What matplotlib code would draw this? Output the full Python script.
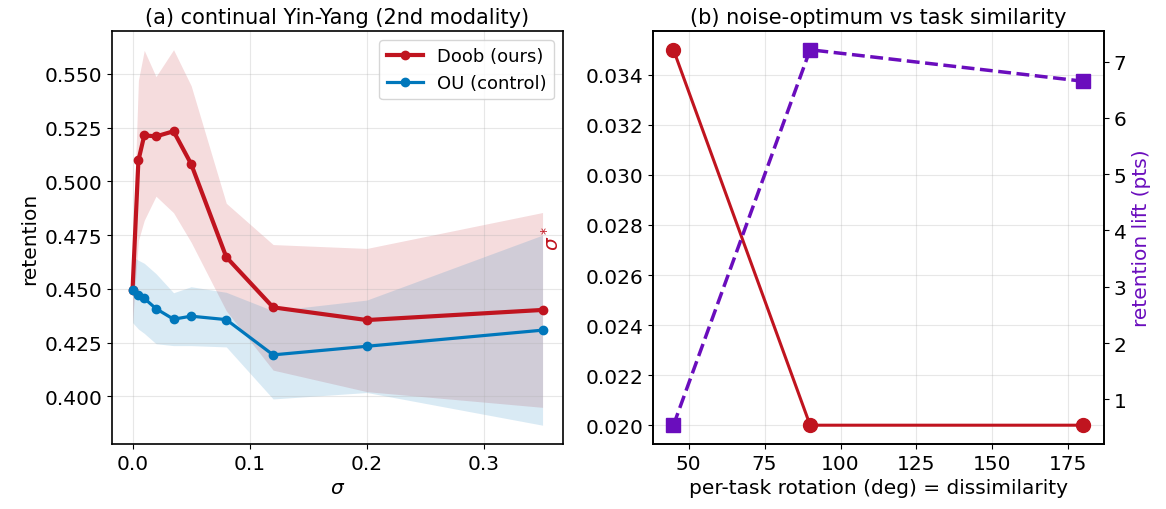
import numpy as np
import matplotlib
matplotlib.use("Agg")
import matplotlib.pyplot as plt

# panel (a): retention vs sigma
sigma = [0, 0.005, 0.01, 0.02, 0.035, 0.05, 0.08, 0.12, 0.2, 0.35]
doob_mean = [0.4496, 0.5097, 0.5214, 0.5209, 0.5233, 0.5081, 0.4648, 0.4414, 0.4355, 0.4402]
doob_std = [0.0153, 0.0372, 0.0395, 0.0278, 0.0379, 0.0364, 0.0250, 0.0292, 0.0333, 0.0453]
ou_mean = [0.4496, 0.4473, 0.4456, 0.4408, 0.4359, 0.4373, 0.4357, 0.4193, 0.4233, 0.4308]
ou_std = [0.0153, 0.0160, 0.0163, 0.0163, 0.0123, 0.0137, 0.0127, 0.0205, 0.0215, 0.0442]

# panel (b): noise optimum vs rotation
rotation = [45, 90, 180]
sigma_star = [0.035, 0.020, 0.020]
lift = [0.54, 7.21, 6.65]

RED = "#c0141f"
BLUE = "#0077bb"
PURPLE = "#6a0dbd"

plt.rcParams['font.size'] = 14.5
plt.rcParams['axes.linewidth'] = 1.2

fig = plt.figure(figsize=(11.66, 5.10), dpi=100)
ax1 = fig.add_axes([0.0961, 0.1275, 0.3868, 0.8098])
ax2 = fig.add_axes([0.5600, 0.1275, 0.3868, 0.8098])

s = np.array(sigma)
dm, ds = np.array(doob_mean), np.array(doob_std)
om, os_ = np.array(ou_mean), np.array(ou_std)

ax1.fill_between(s, dm - ds, dm + ds, color=RED, alpha=0.15, linewidth=0)
ax1.fill_between(s, om - os_, om + os_, color=BLUE, alpha=0.15, linewidth=0)
ax1.plot(s, dm, "-o", color=RED, lw=3.0, ms=6, label="Doob (ours)")
ax1.plot(s, om, "-o", color=BLUE, lw=2.3, ms=6, label="OU (control)")
ax1.set_title("(a) continual Yin-Yang (2nd modality)", fontsize=15)
ax1.set_xlabel(r"$\sigma$")
ax1.set_ylabel("retention")
ax1.set_yticks([0.400, 0.425, 0.450, 0.475, 0.500, 0.525, 0.550])
ax1.set_yticklabels(["0.400", "0.425", "0.450", "0.475", "0.500", "0.525", "0.550"])
ax1.set_xticks([0.0, 0.1, 0.2, 0.3])
ax1.grid(True, alpha=0.3)
ax1.legend(loc="upper right", fontsize=13)

ax2.plot(rotation, sigma_star, "-o", color=RED, lw=2.2, ms=10)
ax2.set_ylabel(r"$\sigma^*$", color=RED)
ax2.yaxis.set_label_coords(-0.20, 0.5)
ax2.set_xlabel("per-task rotation (deg) = dissimilarity")
ax2.set_title("(b) noise-optimum vs task similarity", fontsize=15)
ax2.set_yticks([0.020, 0.022, 0.024, 0.026, 0.028, 0.030, 0.032, 0.034])
ax2.set_xticks([50, 75, 100, 125, 150, 175])
ax2.grid(True, alpha=0.3)

ax3 = ax2.twinx()
ax3.plot(rotation, lift, "--s", color=PURPLE, lw=2.5, ms=10)
ax3.set_ylabel("retention lift (pts)", color=PURPLE)
ax3.set_yticks([1, 2, 3, 4, 5, 6, 7])

fig.savefig("out.png", dpi=100)
